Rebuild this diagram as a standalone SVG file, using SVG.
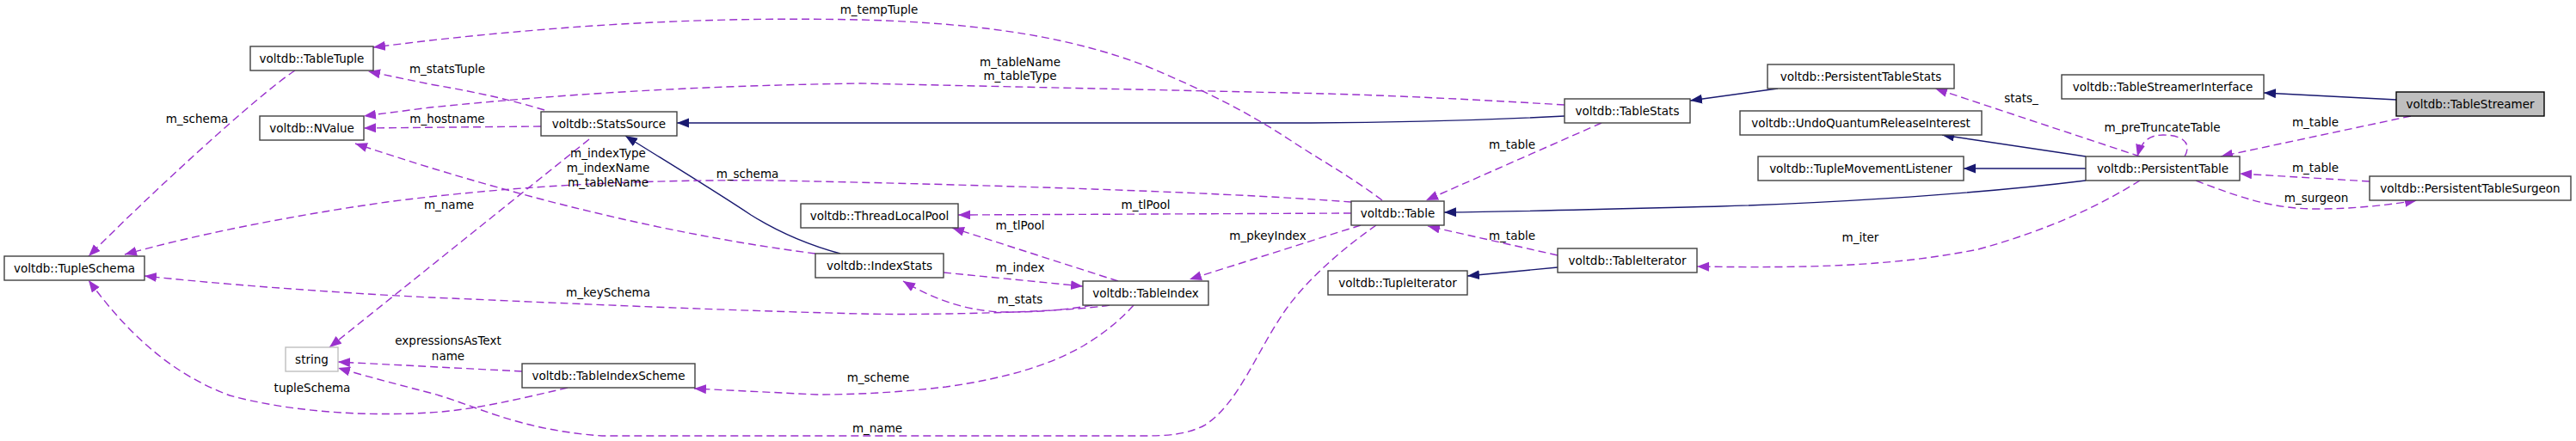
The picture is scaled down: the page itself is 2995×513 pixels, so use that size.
<svg xmlns="http://www.w3.org/2000/svg" width="2995" height="513" viewBox="0 0 2995 513">
<style>
.n rect{fill:#fff;stroke:#404040;stroke-width:1.4}
.n text,.l{font-family:"DejaVu Sans","Liberation Sans",sans-serif;font-size:13.5px;fill:#000;text-anchor:middle}
.u{fill:none;stroke:#9a32cd;stroke-width:1.4;stroke-dasharray:9,5;marker-end:url(#pa)}
.i{fill:none;stroke:#191970;stroke-width:1.4;marker-end:url(#ba)}
</style>
<defs>
<marker id="pa" markerUnits="userSpaceOnUse" markerWidth="16" markerHeight="12" refX="14" refY="5.5" orient="auto"><path d="M0,0 L14,5.5 L0,11 z" fill="#9a32cd"/></marker>
<marker id="ba" markerUnits="userSpaceOnUse" markerWidth="16" markerHeight="12" refX="14" refY="5.5" orient="auto"><path d="M0,0 L14,5.5 L0,11 z" fill="#191970"/></marker>
</defs>
<rect width="2995" height="513" fill="#fff"/>
<g id="connectors">
<path class="i" d="M2786,116 L2632,108"/>
<path class="i" d="M2425,182 L2258,157"/>
<path class="i" d="M2425,196 L2283,196"/>
<path class="i" d="M2425,210 C2280,228 2100,237 2000,240 C1880,243 1780,246 1679,247"/>
<path class="i" d="M2067,103 L1965,117"/>
<path class="i" d="M1819,135 C1700,141 1600,143 1500,143 L787,143"/>
<path class="i" d="M977,295 C940,285 905,270 873,250 C820,215 770,185 727,158"/>
<path class="i" d="M1811,311 L1706,321"/>
<path class="u" d="M2803,135 L2582,182"/>
<path class="u" d="M2755,211 L2604,202"/>
<path class="u" d="M2553,210 C2600,228 2640,243 2693,243 C2740,243 2780,238 2810,233"/>
<path class="u" d="M2540,182 C2548,168 2540,157 2515,157 C2500,157 2490,163 2485,182"/>
<path class="u" d="M2488,182 L2250,103"/>
<path class="u" d="M2488,210 C2440,240 2380,268 2300,290 C2200,310 2100,312 1973,310"/>
<path class="u" d="M1811,297 L1660,263"/>
<path class="u" d="M1862,143 L1658,233"/>
<path class="u" d="M1607,233 C1570,205 1530,183 1500,163 C1450,130 1400,105 1333,77 C1250,45 1150,27 1000,23 C850,20 700,25 500,47 L434,55"/>
<path class="u" d="M633,128 C600,118 560,108 500,98 L428,83"/>
<path class="u" d="M1819,122 C1700,115 1600,110 1500,108 L1000,97 C800,100 650,110 500,125 L423,135"/>
<path class="u" d="M629,147 L423,149"/>
<path class="u" d="M948,295 Q700,263 413,167"/>
<path class="u" d="M1571,235 C1400,222 1100,214 900,210 C700,208 550,222 450,235 C330,252 220,275 145,296"/>
<path class="u" d="M343,82 C300,110 170,230 103,298"/>
<path class="u" d="M1290,355 C1250,362 1100,367 1000,365 C800,360 600,350 500,346 C380,340 250,330 168,321"/>
<path class="u" d="M660,451 C600,465 550,477 500,480 C420,485 333,478 267,460 C200,435 150,390 103,326"/>
<path class="u" d="M607,432 L393,421"/>
<path class="u" d="M1600,262 C1560,290 1520,325 1495,360 C1460,410 1440,470 1400,495 C1380,505 1360,507 1330,507 L700,507 C600,500 550,470 500,457 C450,444 420,436 393,428"/>
<path class="u" d="M685,162 L383,404"/>
<path class="u" d="M1300,327 L1107,265"/>
<path class="u" d="M1571,248 L1114,250"/>
<path class="u" d="M1097,317 L1259,333"/>
<path class="u" d="M1270,355 C1230,362 1200,363 1167,363 C1120,362 1080,345 1050,327"/>
<path class="u" d="M1582,262 L1383,325"/>
<path class="u" d="M1318,355 C1300,375 1280,390 1260,402 C1220,425 1170,440 1100,450 C1050,456 1000,459 950,459 L807,452"/>
<text class="l" x="2692" y="147">m_table</text>
<text class="l" x="2692" y="200">m_table</text>
<text class="l" x="2693" y="235">m_surgeon</text>
<text class="l" x="2514" y="153">m_preTruncateTable</text>
<text class="l" x="2350" y="119">stats_</text>
<text class="l" x="2163" y="281">m_iter</text>
<text class="l" x="1758" y="279">m_table</text>
<text class="l" x="1758" y="173">m_table</text>
<text class="l" x="1022" y="16">m_tempTuple</text>
<text class="l" x="520" y="85">m_statsTuple</text>
<text class="l" x="1186" y="77">m_tableName</text>
<text class="l" x="1186" y="93">m_tableType</text>
<text class="l" x="520" y="143">m_hostname</text>
<text class="l" x="707" y="183">m_indexType</text>
<text class="l" x="707" y="200">m_indexName</text>
<text class="l" x="707" y="217">m_tableName</text>
<text class="l" x="869" y="207">m_schema</text>
<text class="l" x="229" y="143">m_schema</text>
<text class="l" x="707" y="345">m_keySchema</text>
<text class="l" x="363" y="456">tupleSchema</text>
<text class="l" x="521" y="401">expressionsAsText</text>
<text class="l" x="521" y="419">name</text>
<text class="l" x="1020" y="503">m_name</text>
<text class="l" x="522" y="243">m_name</text>
<text class="l" x="1332" y="243">m_tlPool</text>
<text class="l" x="1186" y="267">m_tlPool</text>
<text class="l" x="1474" y="279">m_pkeyIndex</text>
<text class="l" x="1186" y="316">m_index</text>
<text class="l" x="1186" y="353">m_stats</text>
<text class="l" x="1021" y="444">m_scheme</text>
</g>
<g id="TableStreamer" class="n"><rect x="2786" y="107" width="172" height="28" style="fill:#bfbfbf;stroke:#000"/><text x="2872" y="125.5">voltdb::TableStreamer</text></g>
<g id="TableStreamerInterface" class="n"><rect x="2397" y="87" width="235" height="28"/><text x="2514.5" y="105.5">voltdb::TableStreamerInterface</text></g>
<g id="PersistentTable" class="n"><rect x="2425" y="182" width="179" height="28"/><text x="2514.5" y="200.5">voltdb::PersistentTable</text></g>
<g id="PersistentTableSurgeon" class="n"><rect x="2755" y="205" width="234" height="28"/><text x="2872" y="223.5">voltdb::PersistentTableSurgeon</text></g>
<g id="PersistentTableStats" class="n"><rect x="2055" y="75" width="217" height="28"/><text x="2163.5" y="93.5">voltdb::PersistentTableStats</text></g>
<g id="UndoQuantumReleaseInterest" class="n"><rect x="2023" y="129" width="281" height="28"/><text x="2163.5" y="147.5">voltdb::UndoQuantumReleaseInterest</text></g>
<g id="TupleMovementListener" class="n"><rect x="2044" y="182" width="239" height="28"/><text x="2163.5" y="200.5">voltdb::TupleMovementListener</text></g>
<g id="TableStats" class="n"><rect x="1819" y="115" width="146" height="28"/><text x="1892" y="133.5">voltdb::TableStats</text></g>
<g id="Table" class="n"><rect x="1571" y="234" width="108" height="28"/><text x="1625" y="252.5">voltdb::Table</text></g>
<g id="TableIterator" class="n"><rect x="1811" y="289" width="162" height="28"/><text x="1892" y="307.5">voltdb::TableIterator</text></g>
<g id="TupleIterator" class="n"><rect x="1544" y="315" width="162" height="28"/><text x="1625" y="333.5">voltdb::TupleIterator</text></g>
<g id="ThreadLocalPool" class="n"><rect x="931" y="237" width="183" height="28"/><text x="1022.5" y="255.5">voltdb::ThreadLocalPool</text></g>
<g id="IndexStats" class="n"><rect x="948" y="295" width="149" height="28"/><text x="1022.5" y="313.5">voltdb::IndexStats</text></g>
<g id="TableIndex" class="n"><rect x="1259" y="327" width="146" height="28"/><text x="1332" y="345.5">voltdb::TableIndex</text></g>
<g id="StatsSource" class="n"><rect x="629" y="130" width="158" height="28"/><text x="708" y="148.5">voltdb::StatsSource</text></g>
<g id="TableIndexScheme" class="n"><rect x="607" y="423" width="201" height="28"/><text x="707.5" y="441.5">voltdb::TableIndexScheme</text></g>
<g id="TableTuple" class="n"><rect x="291" y="54" width="143" height="28"/><text x="362.5" y="72.5">voltdb::TableTuple</text></g>
<g id="NValue" class="n"><rect x="302" y="135" width="121" height="28"/><text x="362.5" y="153.5">voltdb::NValue</text></g>
<g id="TupleSchema" class="n"><rect x="5" y="298" width="163" height="28"/><text x="86.5" y="316.5">voltdb::TupleSchema</text></g>
<g id="string" class="n"><rect x="332" y="404" width="61" height="28" style="stroke:#bfbfbf"/><text x="362.5" y="422.5">string</text></g>
</svg>
